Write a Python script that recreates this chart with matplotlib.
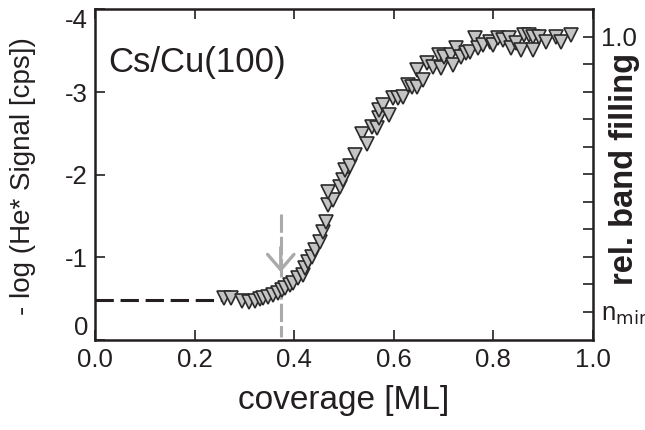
import matplotlib
matplotlib.use("Agg")
import matplotlib.pyplot as plt

plt.rcParams['font.family'] = ['Liberation Sans', 'DejaVu Sans']

coverage = [0.260, 0.274, 0.296, 0.310, 0.321, 0.331, 0.337, 0.347, 0.357, 0.367,
            0.375, 0.381, 0.391, 0.397, 0.407, 0.417, 0.421, 0.427, 0.435, 0.442,
            0.452, 0.458, 0.464, 0.468, 0.478, 0.468, 0.492, 0.498, 0.502, 0.512,
            0.522, 0.536, 0.546, 0.556, 0.567, 0.571, 0.571, 0.579, 0.591, 0.599,
            0.609, 0.619, 0.629, 0.637, 0.647, 0.647, 0.659, 0.667, 0.679, 0.690,
            0.694, 0.700, 0.714, 0.718, 0.724, 0.734, 0.744, 0.754, 0.764, 0.770,
            0.780, 0.794, 0.800, 0.810, 0.819, 0.831, 0.835, 0.845, 0.855, 0.861,
            0.871, 0.879, 0.879, 0.891, 0.905, 0.925, 0.935, 0.956]
neg_log_signal = [-0.51, -0.51, -0.47, -0.46, -0.47, -0.50, -0.51, -0.52, -0.54, -0.57,
                  -0.61, -0.63, -0.67, -0.69, -0.75, -0.79, -0.87, -0.94, -1.00, -1.09,
                  -1.19, -1.31, -1.43, -1.63, -1.69, -1.79, -1.85, -1.94, -2.06, -2.10,
                  -2.24, -2.49, -2.37, -2.58, -2.57, -2.69, -2.78, -2.85, -2.72, -2.93,
                  -2.93, -2.94, -3.09, -3.06, -3.06, -3.27, -3.15, -3.35, -3.31, -3.45,
                  -3.29, -3.43, -3.45, -3.33, -3.54, -3.43, -3.47, -3.49, -3.66, -3.54,
                  -3.57, -3.61, -3.57, -3.66, -3.63, -3.66, -3.54, -3.60, -3.51, -3.69,
                  -3.69, -3.67, -3.51, -3.67, -3.61, -3.67, -3.61, -3.69]

baseline_x = [0.0, 0.26]
baseline_y = [-0.48, -0.48]
onset_x = 0.373
onset_y = [-1.525, -0.04]
arrow_tip = -0.82

x_ticks = [0.0, 0.2, 0.4, 0.6, 0.8, 1.0]
y_ticks = [0, -1, -2, -3, -4]
right_ticks = [i / 10 for i in range(11)]
right_labels = ['n$_{\\mathrm{min}}$'] + [''] * 9 + ['1.0']

dark = '#231f20'
fig = plt.figure(figsize=(6.45, 4.3), dpi=100)
ax = fig.add_axes([95 / 645, 90 / 430, 498 / 645, 330.5 / 430])

ax.plot(baseline_x, baseline_y, color=dark, lw=2.2, linestyle=(0, (6, 2.2)), zorder=2)
ax.plot([onset_x, onset_x], onset_y, color='#aaaaaa', lw=2.2,
        linestyle=(0, (6, 1.3)), zorder=1)
ax.annotate('', xy=(onset_x, arrow_tip), xytext=(onset_x, arrow_tip - 0.3),
            arrowprops=dict(arrowstyle='->,head_length=1.1,head_width=0.95',
                            color='#aaaaaa', lw=2.4, mutation_scale=10,
                            shrinkA=0, shrinkB=0), zorder=1)

ax.plot(coverage, neg_log_signal, linestyle='none', marker='v', markersize=10,
        markerfacecolor='#c4c4c4', markeredgecolor='#2a2a2a', markeredgewidth=1.2,
        zorder=3)

ax.set_xlim(0, 1.0)
ax.set_ylim(0, -4)
ax.set_xticks(x_ticks)
ax.set_xticklabels([f'{v:.1f}' for v in x_ticks])
ax.set_yticks(y_ticks)
ax.set_yticklabels([str(v) for v in y_ticks])
ax.tick_params(axis='both', direction='in', length=7, width=1.2, colors=dark,
               labelsize=18.5, top=True, pad=6)
ax.tick_params(axis='y', pad=5)
for lab in ax.get_yticklabels():
    if lab.get_text() == '0':
        lab.set_va('bottom')
    elif lab.get_text() == '-4':
        lab.set_va('top')
for s in ax.spines.values():
    s.set_linewidth(1.8)
    s.set_color(dark)

ax.set_xlabel('coverage [ML]', fontsize=24, color=dark, labelpad=9)
ax.set_ylabel('- log (He* Signal [cps])', fontsize=20, color=dark)
ax.yaxis.set_label_coords(-0.118, 0.497)

ax2 = ax.twinx()
ax2.set_ylim(-0.102, 1.1)
ax2.set_yticks(right_ticks)
ax2.set_yticklabels(right_labels)
ax2.tick_params(axis='y', direction='in', length=7, width=1.2, colors=dark,
                labelsize=18.5, pad=6)
ax2.set_ylabel('rel. band filling', fontsize=23.5, fontweight='bold', color=dark,
               rotation=90)
ax2.yaxis.set_label_coords(1.032, 0.519)
for s in ax2.spines.values():
    s.set_visible(False)

ax.text(0.027, 0.84, 'Cs/Cu(100)', transform=ax.transAxes, fontsize=25,
        color=dark, va='center', ha='left')

fig.savefig('out.png', dpi=100)
